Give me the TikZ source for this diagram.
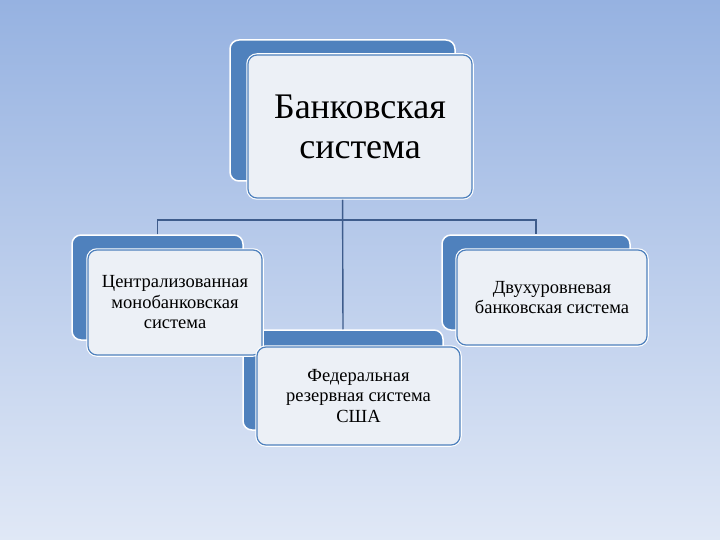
\documentclass[tikz,border=0pt]{standalone}
\usepackage{fontspec}
\setmainfont{Liberation Serif}
\definecolor{bgtop}{RGB}{150,178,225}
\definecolor{bgbot}{RGB}{224,232,246}
\definecolor{boxblue}{RGB}{79,129,189}
\definecolor{boxfill}{RGB}{236,240,246}
\definecolor{linkcol}{RGB}{62,92,140}
\tikzset{
  backbox/.style={draw=white, line width=1.5pt, fill=boxblue, rounded corners=9pt, inner sep=0pt},
  frontbox/.style={draw=boxblue, line width=1.2pt, fill=boxfill, rounded corners=9pt, inner sep=0pt, align=center,
    preaction={draw=white, line width=3.5pt}},
  smalltext/.style={font=\fontsize{18.5}{20.5}\selectfont},
  link/.style={draw=linkcol, line width=1.4pt}
}
\begin{document}
\begin{tikzpicture}[x=1pt,y=-1pt]
        % Fondo
        \shade[top color=bgtop, bottom color=bgbot] (0,0) rectangle (720,540);
        \useasboundingbox (0,0) rectangle (720,540);
        % Rettangoli blu
        \node[backbox, minimum width=225pt, minimum height=141pt] (topback) at (342.5,110.5) {};
        \node[backbox, minimum width=171pt, minimum height=105pt] (leftback) at (157.5,287.5) {};
        \node[backbox, minimum width=188pt, minimum height=95pt] (rightback) at (536,282.5) {};
        \node[backbox, minimum width=200pt, minimum height=100pt] (fedback) at (343,380) {};
        % Collegamenti
        \coordinate (hub) at (topback.south |- 0,220);
        \draw[link] (topback.south) -- (fedback.north);
        \draw[link] (leftback.north) -- (leftback.north |- hub) -- (rightback.north |- hub) -- (rightback.north);
        % Rettangoli chiari
        \node[frontbox, minimum width=224pt, minimum height=143pt, font=\fontsize{36}{40}\selectfont] (top) at (360,126.5) {Банковская\\система};
        \node[frontbox, smalltext, minimum width=174pt, minimum height=105pt] (left) at (175,302.5) {Централизованная\\монобанковская\\система};
        \node[frontbox, smalltext, minimum width=190pt, minimum height=95pt] (right) at (552,297.5) {Двухуровневая\\банковская система};
        \node[frontbox, smalltext, minimum width=203pt, minimum height=98pt] (fed) at (358.5,396) {Федеральная\\резервная система\\США};
    \end{tikzpicture}
\end{document}
